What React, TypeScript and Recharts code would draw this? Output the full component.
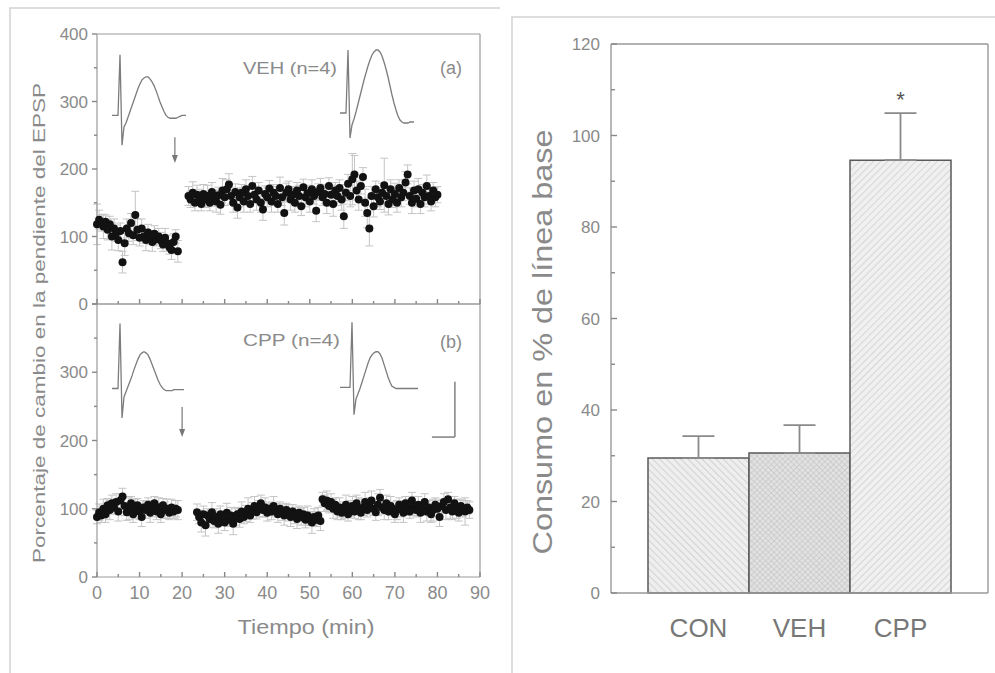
import React from 'react';
import {
  ScatterChart, Scatter, XAxis, YAxis, ErrorBar, ReferenceLine, ReferenceDot,
  LineChart, Line, BarChart, Bar, Cell,
} from 'recharts';

// EPSP slope series, sampled every half minute
const STEP = 0.5;

// (a) VEH (n=4)
const VEH_PRE_START = 0;
const vehPre = [
  118, 125, 120, 115, 122, 110, 118, 100, 112, 105,
  95, 108, 62, 90, 112, 105, 120, 102, 132, 110,
  98, 112, 100, 95, 106, 98, 92, 104, 96, 100,
  94, 88, 98, 90, 84, 80, 92, 100, 78,
];
const vehPreErr = [
  30, 14, 12, 18, 10, 15, 12, 20, 14, 12,
  16, 12, 16, 18, 14, 12, 14, 14, 35, 16,
  12, 14, 10, 16, 12, 10, 14, 12, 10, 12,
  12, 10, 14, 12, 10, 14, 12, 10, 16,
];
const VEH_POST_START = 21.5;
const vehPost = [
  160, 155, 165, 150, 162, 158, 148, 163, 155, 160,
  150, 166, 157, 152, 161, 147, 168, 158, 170, 177,
  160, 150, 166, 143, 158, 165, 152, 170, 160, 148,
  175, 162, 155, 168, 150, 140, 163, 158, 171, 152,
  165, 160, 148, 172, 158, 135, 165, 170, 155, 162,
  150, 168, 160, 145, 173, 158, 164, 152, 170, 160,
  138, 166, 172, 158, 163, 150, 175, 162, 148, 168,
  160, 172, 155, 130, 165, 178, 160, 185, 192, 168,
  155, 175, 188, 150, 135, 112, 160, 145, 170, 158,
  152, 165, 176, 160, 148, 170, 155, 163, 150, 172,
  158, 165, 180, 192, 160, 150, 168, 156, 170, 148,
  165, 158, 175, 160, 152, 168, 158, 162,
];
const vehPostErr = [
  14, 12, 16, 12, 14, 12, 10, 14, 12, 16,
  12, 14, 12, 16, 12, 14, 18, 12, 14, 16,
  12, 14, 12, 16, 14, 12, 16, 14, 12, 12,
  14, 12, 16, 12, 14, 16, 12, 14, 12, 16,
  12, 14, 12, 16, 12, 18, 14, 12, 16, 12,
  14, 12, 16, 14, 12, 14, 12, 16, 14, 12,
  16, 12, 14, 12, 14, 16, 12, 14, 18, 12,
  14, 12, 16, 18, 12, 14, 16, 38, 28, 14,
  16, 12, 14, 20, 22, 26, 14, 16, 12, 14,
  12, 14, 40, 12, 16, 14, 12, 16, 14, 12,
  14, 12, 16, 14, 12, 16, 14, 12, 16, 14,
  12, 14, 16, 12, 14, 12, 14, 12,
];

// (b) CPP (n=4)
const CPP_PRE_START = 0;
const cppPre = [
  88, 95, 90, 100, 92, 105, 98, 108, 102, 110,
  96, 112, 118, 104, 95, 100, 108, 92, 100, 105,
  96, 88, 102, 98, 106, 94, 100, 108, 96, 102,
  92, 105, 98, 100, 94, 102, 96, 100, 98,
];
const cppPreErr = [
  10, 12, 10, 14, 12, 10, 14, 12, 10, 12,
  14, 10, 12, 14, 12, 16, 10, 12, 14, 10,
  12, 14, 10, 12, 10, 14, 12, 10, 12, 14,
  12, 10, 12, 14, 10, 12, 10, 12, 14,
];
const CPP_POST_START = 23.5;
const cppPost = [
  95, 88, 80, 92, 76, 90, 85, 95, 82, 88,
  78, 92, 86, 80, 94, 84, 90, 78, 88, 92,
  85, 96, 88, 93, 100, 90, 97, 104, 95, 100,
  108, 98, 102, 94, 100, 96, 104, 98, 92, 100,
  95, 90, 98, 94, 88, 96, 90, 85, 94, 88,
  92, 84, 90, 86, 80, 88, 84, 90, 82, 114,
  108, 112, 104, 110, 100, 106, 96, 102, 94, 98,
  106, 92, 100, 104, 96, 108, 100, 94, 102, 110,
  98, 104, 112, 100, 95, 106, 116, 102, 98, 108,
  96, 104, 100, 92, 98, 106, 100, 94, 108, 102,
  96, 112, 104, 98, 106, 94, 100, 110, 96, 102,
  92, 98, 106, 100, 88, 104, 110, 98, 114, 102,
  96, 108, 100, 94, 104, 100, 96, 102, 98,
];
const cppPostErr = [
  12, 10, 14, 12, 16, 10, 12, 14, 10, 12,
  14, 12, 10, 12, 14, 10, 12, 16, 12, 10,
  12, 14, 10, 12, 16, 10, 12, 14, 10, 12,
  12, 10, 14, 12, 10, 12, 14, 10, 12, 10,
  12, 14, 10, 12, 14, 10, 12, 14, 10, 12,
  10, 12, 14, 10, 16, 12, 10, 12, 14, 10,
  12, 14, 10, 12, 14, 10, 12, 14, 10, 12,
  14, 10, 12, 14, 10, 12, 16, 10, 12, 14,
  10, 12, 14, 10, 12, 16, 12, 10, 14, 12,
  12, 14, 10, 12, 14, 10, 12, 14, 10, 12,
  10, 12, 14, 10, 12, 14, 10, 12, 14, 10,
  12, 16, 10, 12, 14, 10, 12, 14, 10, 16,
  12, 10, 14, 12, 10, 12, 20, 10, 12,
];

const timeTicks = [0, 5, 10, 15, 20, 25, 30, 35, 40, 45, 50, 55, 60, 65, 70, 75, 80, 85, 90];
const slopeTicks = [0, 50, 100, 150, 200, 250, 300, 350, 400];

// representative EPSPs (insets, arbitrary units 0-100)
const vehTraceBefore = [34, 34, 34, 34, 97, 3, 22, 26, 32, 38, 44, 50, 56, 62, 67, 71, 73, 74, 74, 72, 69, 65, 60, 54, 48, 43, 38, 34, 32, 31, 31, 31, 31, 32, 33, 34, 34, 34];
const vehTraceAfter = [32, 32, 32, 32, 95, 7, 20, 26, 33, 41, 49, 57, 65, 72, 79, 85, 90, 93, 95, 95, 93, 89, 83, 76, 68, 59, 50, 42, 35, 29, 25, 23, 22, 22, 22, 23, 23, 23];
const cppTraceBefore = [30, 30, 30, 30, 92, 2, 22, 27, 32, 37, 42, 48, 53, 58, 62, 64, 65, 64, 62, 58, 53, 48, 43, 38, 34, 31, 29, 28, 28, 28, 28, 29, 29, 29, 29, 29, 29];
const cppTraceAfter = [31, 31, 31, 31, 31, 31, 93, 5, 20, 25, 30, 36, 42, 48, 54, 59, 62, 64, 65, 65, 63, 59, 53, 47, 41, 36, 32, 31, 30, 30, 30, 30, 30, 30, 30, 30, 30, 30, 30, 30];

// arrows (time of treatment) and calibration bar, in data units
const arrowVeh = { t: 18.3, from: 247, to: 209 };
const arrowCpp = { t: 20, from: 249, to: 205 };
const calib = { t0: 78.7, t1: 84.1, low: 205, high: 286 };

// consumption, % of baseline
const groups = ['CON', 'VEH', 'CPP'];
const consumo = [29.5, 30.6, 94.6];
const consumoErr = [4.8, 6.1, 10.3];
const signif = ['', '', '*'];
const consumoTicks = [0, 10, 20, 30, 40, 50, 60, 70, 80, 90, 100, 110, 120];

const W = 995;
const H = 673;
const AXIS = '#999';
const TICK = '#888';
const TEXT = '#8a8a8a';
const FONT = '"Liberation Sans", Arial, sans-serif';

type Side = 'left' | 'right' | 'top' | 'bottom';
interface TickOpts {
  major: (v: number) => boolean;
  label?: (v: number) => boolean;
  outward?: boolean;
  fontSize?: number;
  gap?: number;
  majorLen?: number;
  minorLen?: number;
}

// tick marks of two lengths (and optional label) so minor ticks come out shorter
const frameTick = (side: Side, o: TickOpts) => (props: any) => {
  const { x, y, payload } = props;
  const v: number = payload.value;
  const len = o.major(v) ? (o.majorLen ?? 5) : (o.minorLen ?? 3);
  const s = o.outward ? -1 : 1;
  const fs = o.fontSize ?? 17;
  const gap = o.gap ?? 9;
  const show = o.label ? o.label(v) : false;
  const lp = { stroke: TICK, strokeWidth: 1.4 };
  if (side === 'left') {
    return (
      <g>
        <line x1={x} y1={y} x2={x + s * len} y2={y} {...lp} />
        {show && (
          <text x={x - gap} y={y} dy="0.36em" textAnchor="end" fontSize={fs} fill={TEXT} fontFamily={FONT}>{v}</text>
        )}
      </g>
    );
  }
  if (side === 'right') {
    return <line x1={x} y1={y} x2={x - s * len} y2={y} {...lp} />;
  }
  if (side === 'bottom') {
    return (
      <g>
        <line x1={x} y1={y} x2={x} y2={y - s * len} {...lp} />
        {show && (
          <text x={x} y={y + gap} textAnchor="middle" fontSize={fs} fill={TEXT} fontFamily={FONT}>{v}</text>
        )}
      </g>
    );
  }
  return <line x1={x} y1={y} x2={x} y2={y + s * len} {...lp} />;
};

const toPoints = (start: number, vals: number[], errs: number[]) =>
  vals.map((v, i) => ({ t: start + i * STEP, v, e: errs[i] }));

const dot = (p: any) => <circle cx={p.cx} cy={p.cy} r={4} fill="#121212" />;

const arrowHead = (p: any) => (
  <path d={`M${p.cx - 3},${p.cy - 8} L${p.cx + 3},${p.cy - 8} L${p.cx},${p.cy} Z`} fill="#777" />
);

interface PanelProps {
  data: { t: number; v: number; e: number }[];
  top: number;
  height: number;
  margin: { top: number; right: number; bottom: number; left: number };
  xLabel: (v: number) => boolean;
  yLabel: (v: number) => boolean;
  children?: React.ReactNode;
}

// axes of size 1 px: Recharts skips drawing an axis whose box is 0 wide/high
const SlopePanel: React.FC<PanelProps> = ({ data, top, height, margin, xLabel, yLabel, children }) => (
  <div style={{ position: 'absolute', left: 0, top, width: 500, height }}>
    <ScatterChart width={500} height={height} margin={margin}>
      <XAxis xAxisId="x" type="number" dataKey="t" domain={[0, 90]} ticks={timeTicks} interval={0}
        height={1} tickSize={0} tickMargin={0} tickLine={false} axisLine={{ stroke: AXIS, strokeWidth: 1.2 }}
        tick={frameTick('bottom', { major: (v) => v % 10 === 0, label: xLabel, fontSize: 18, gap: 22 })} />
      <XAxis xAxisId="xt" orientation="top" type="number" domain={[0, 90]} ticks={timeTicks} interval={0}
        height={1} tickSize={0} tickMargin={0} tickLine={false} axisLine={{ stroke: AXIS, strokeWidth: 1.2 }}
        tick={frameTick('top', { major: (v) => v % 10 === 0 })} />
      <YAxis yAxisId="y" type="number" dataKey="v" domain={[0, 400]} ticks={slopeTicks} interval={0}
        width={60} tickSize={0} tickMargin={0} tickLine={false} axisLine={{ stroke: AXIS, strokeWidth: 1.2 }}
        tick={frameTick('left', { major: (v) => v % 100 === 0, label: yLabel, outward: true, fontSize: 17 })} />
      <YAxis yAxisId="yr" orientation="right" type="number" domain={[0, 400]} ticks={slopeTicks} interval={0}
        width={1} tickSize={0} tickMargin={0} tickLine={false} axisLine={{ stroke: AXIS, strokeWidth: 1.2 }}
        tick={frameTick('right', { major: (v) => v % 100 === 0 })} />
      <Scatter xAxisId="x" yAxisId="y" data={data} shape={dot} isAnimationActive={false}>
        <ErrorBar dataKey="e" direction="y" width={4} stroke="#c4c4c4" strokeWidth={1} />
      </Scatter>
      {children}
    </ScatterChart>
  </div>
);

const Trace: React.FC<{ values: number[]; left: number; top: number; height: number }> = ({ values, left, top, height }) => {
  const d = values.map((v, i) => ({ i, v }));
  const w = (values.length - 1) * 2;
  return (
    <div style={{ position: 'absolute', left, top, width: w, height }}>
      <LineChart width={w} height={height} data={d} margin={{ top: 0, right: 0, bottom: 0, left: 0 }}>
        <XAxis dataKey="i" type="number" domain={[0, values.length - 1]} hide />
        <YAxis type="number" domain={[0, 100]} hide />
        <Line dataKey="v" type="linear" dot={false} stroke="#7c7c7c" strokeWidth={1.3} isAnimationActive={false} />
      </LineChart>
    </div>
  );
};

const barPatterns = ['url(#hatchCon)', 'url(#hatchVeh)', 'url(#hatchCpp)'];

const ConsumoChart: React.FC = () => {
  const rows = groups.map((name, i) => ({ name, value: consumo[i], err: [0, consumoErr[i]] }));
  const catTick = (p: any) => (
    <text x={p.x} y={p.y + 44} textAnchor="middle" fontSize={26} fill="#777" fontFamily={FONT}>{p.payload.value}</text>
  );
  return (
    <div style={{ position: 'absolute', left: 511, top: 0, width: 484, height: H }}>
      <BarChart width={484} height={H} data={rows} margin={{ top: 44, right: 6, bottom: 79, left: 40 }}
        barCategoryGap={0} barGap={0}>
        <defs>
          <pattern id="hatchCon" width="5" height="5" patternUnits="userSpaceOnUse" patternTransform="rotate(-45)">
            <rect width="5" height="5" fill="#eeeeee" />
            <line x1="0" y1="0" x2="0" y2="5" stroke="#c6c6c6" strokeWidth="1.4" />
          </pattern>
          <pattern id="hatchVeh" width="4" height="4" patternUnits="userSpaceOnUse" patternTransform="rotate(45)">
            <rect width="4" height="4" fill="#e2e2e2" />
            <line x1="0" y1="0" x2="0" y2="4" stroke="#c2c2c2" strokeWidth="1.2" />
            <line x1="0" y1="0" x2="4" y2="0" stroke="#c2c2c2" strokeWidth="1.2" />
          </pattern>
          <pattern id="hatchCpp" width="5" height="5" patternUnits="userSpaceOnUse" patternTransform="rotate(45)">
            <rect width="5" height="5" fill="#f0f0f0" />
            <line x1="0" y1="0" x2="0" y2="5" stroke="#cbcbcb" strokeWidth="1.4" />
          </pattern>
        </defs>
        <XAxis dataKey="name" padding={{ left: 37, right: 37 }} height={1} tickLine={false} tickSize={0} tickMargin={0}
          axisLine={{ stroke: AXIS, strokeWidth: 1.4 }} tick={catTick} interval={0} />
        <YAxis yAxisId="l" type="number" domain={[0, 120]} ticks={consumoTicks} interval={0} width={60}
          tickSize={0} tickMargin={0} tickLine={false} axisLine={{ stroke: AXIS, strokeWidth: 1.4 }}
          tick={frameTick('left', { major: (v) => v % 20 === 0, label: (v) => v % 20 === 0, fontSize: 17, gap: 11, majorLen: 6, minorLen: 4 })} />
        <YAxis yAxisId="r" orientation="right" type="number" domain={[0, 120]} ticks={consumoTicks} interval={0} width={1}
          tickSize={0} tickMargin={0} tickLine={false} axisLine={{ stroke: AXIS, strokeWidth: 1.4 }}
          tick={frameTick('right', { major: (v) => v % 20 === 0, majorLen: 6, minorLen: 4 })} />
        <ReferenceLine yAxisId="l" y={120} stroke={AXIS} strokeWidth={1.4} />
        <Bar yAxisId="l" dataKey="value" stroke="#5a5a5a" strokeWidth={1.5} isAnimationActive={false}>
          {rows.map((r, i) => (
            <Cell key={r.name} fill={barPatterns[i]} />
          ))}
          <ErrorBar dataKey="err" direction="y" width={16} stroke="#8a8a8a" strokeWidth={1.8} />
        </Bar>
        {groups.map((g, i) =>
          signif[i] ? (
            <ReferenceDot key={g} yAxisId="l" x={g} y={consumo[i] + consumoErr[i] + 4} r={0}
              shape={(p: any) => (
                <text x={p.cx} y={p.cy + 12} textAnchor="middle" fontSize={22} fill="#555" fontFamily={FONT}>{signif[i]}</text>
              )} />
          ) : null,
        )}
      </BarChart>
    </div>
  );
};

export default function App() {
  const vehData = [...toPoints(VEH_PRE_START, vehPre, vehPreErr), ...toPoints(VEH_POST_START, vehPost, vehPostErr)];
  const cppData = [...toPoints(CPP_PRE_START, cppPre, cppPreErr), ...toPoints(CPP_POST_START, cppPost, cppPostErr)];

  return (
    <div style={{ position: 'absolute', left: 0, top: 0, width: W, height: H, background: '#fff', overflow: 'hidden', fontFamily: FONT }}>
      <SlopePanel data={vehData} top={0} height={320} margin={{ top: 33, right: 19, bottom: 15, left: 37 }}
        xLabel={() => false} yLabel={(v) => v % 100 === 0}>
        <ReferenceLine xAxisId="x" yAxisId="y" segment={[{ x: arrowVeh.t, y: arrowVeh.from }, { x: arrowVeh.t, y: arrowVeh.to + 4 }]}
          stroke="#777" strokeWidth={1.2} />
        <ReferenceDot xAxisId="x" yAxisId="y" x={arrowVeh.t} y={arrowVeh.to} r={0} shape={arrowHead} />
      </SlopePanel>
      <SlopePanel data={cppData} top={280} height={340} margin={{ top: 23, right: 19, bottom: 42, left: 37 }}
        xLabel={(v) => v % 10 === 0} yLabel={(v) => v % 100 === 0 && v < 400}>
        <ReferenceLine xAxisId="x" yAxisId="y" segment={[{ x: arrowCpp.t, y: arrowCpp.from }, { x: arrowCpp.t, y: arrowCpp.to + 4 }]}
          stroke="#777" strokeWidth={1.2} />
        <ReferenceDot xAxisId="x" yAxisId="y" x={arrowCpp.t} y={arrowCpp.to} r={0} shape={arrowHead} />
        <ReferenceLine xAxisId="x" yAxisId="y" segment={[{ x: calib.t1, y: calib.high }, { x: calib.t1, y: calib.low }]}
          stroke="#888" strokeWidth={1.6} />
        <ReferenceLine xAxisId="x" yAxisId="y" segment={[{ x: calib.t0, y: calib.low }, { x: calib.t1, y: calib.low }]}
          stroke="#888" strokeWidth={1.6} />
      </SlopePanel>

      <Trace values={vehTraceBefore} left={112} top={52} height={96} />
      <Trace values={vehTraceAfter} left={340} top={45} height={100} />
      <Trace values={cppTraceBefore} left={112} top={315} height={105} />
      <Trace values={cppTraceAfter} left={340} top={315} height={105} />

      <ConsumoChart />

      <svg width={W} height={H} style={{ position: 'absolute', left: 0, top: 0, pointerEvents: 'none' }} fontFamily={FONT}>
        <path d="M10,673 V8 H500" stroke="#d2d2d2" strokeWidth={1.5} fill="none" />
        <path d="M512,673 V17 H995" stroke="#d2d2d2" strokeWidth={1.5} fill="none" />
        <text x={243} y={74} fontSize={17} fill={TEXT} textLength={94} lengthAdjust="spacingAndGlyphs">VEH (n=4)</text>
        <text x={440} y={74} fontSize={18} fill={TEXT}>(a)</text>
        <text x={243} y={346} fontSize={17} fill={TEXT} textLength={97} lengthAdjust="spacingAndGlyphs">CPP (n=4)</text>
        <text x={440} y={348} fontSize={18} fill={TEXT}>(b)</text>
        <text transform="translate(45,323) rotate(-90)" textAnchor="middle" fontSize={17} fill={TEXT}
          textLength={480} lengthAdjust="spacingAndGlyphs">Porcentaje de cambio en la pendiente del EPSP</text>
        <text x={306} y={634} textAnchor="middle" fontSize={21} fill={TEXT}
          textLength={137} lengthAdjust="spacingAndGlyphs">Tiempo (min)</text>
        <text transform="translate(552,342) rotate(-90)" textAnchor="middle" fontSize={27} fill={TEXT}
          textLength={425} lengthAdjust="spacingAndGlyphs">Consumo en % de línea base</text>
      </svg>
    </div>
  );
}
